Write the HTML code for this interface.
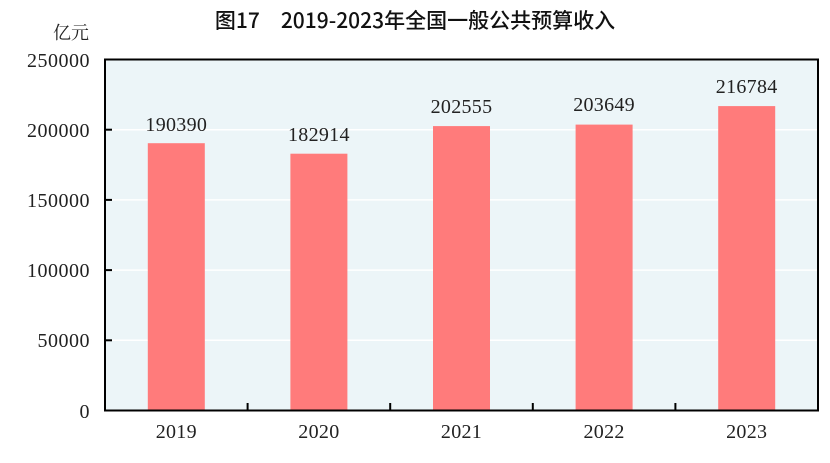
<!DOCTYPE html><html><head><meta charset="utf-8"><style>body{margin:0;background:#fff}svg{display:block}</style></head><body>
<svg width="830" height="463" xmlns="http://www.w3.org/2000/svg">
<text x="415" y="28" text-anchor="middle" font-family="'Noto Sans CJK SC',sans-serif" font-size="21" font-weight="500" fill="#111">图17　2019-2023年全国一般公共预算收入</text>
<text x="89" y="39" text-anchor="end" font-family="'Noto Serif CJK SC','Liberation Serif',serif" font-size="18" fill="#222">亿元</text>
<rect x="105" y="59.5" width="713" height="351" fill="#ecf5f8"/>
<g stroke="#fff" stroke-width="1.5">
<line x1="105" x2="818" y1="129.7" y2="129.7"/><line x1="105" x2="818" y1="199.9" y2="199.9"/><line x1="105" x2="818" y1="270.1" y2="270.1"/><line x1="105" x2="818" y1="340.3" y2="340.3"/>
</g>
<g fill="#ff7b7b">
<rect x="147.8" y="143.2" width="57" height="267.3"/>
<rect x="290.4" y="153.7" width="57" height="256.8"/>
<rect x="433" y="126.1" width="57" height="284.4"/>
<rect x="575.6" y="124.6" width="57" height="285.9"/>
<rect x="718.2" y="106.1" width="57" height="304.4"/>
</g>
<rect x="105" y="59.5" width="713" height="351" fill="none" stroke="#000" stroke-width="2"/>
<g stroke="#000" stroke-width="2">
<line x1="105" x2="112" y1="129.7" y2="129.7"/><line x1="105" x2="112" y1="199.9" y2="199.9"/><line x1="105" x2="112" y1="270.1" y2="270.1"/><line x1="105" x2="112" y1="340.3" y2="340.3"/>
<line x1="247.6" x2="247.6" y1="410.5" y2="403"/><line x1="390.2" x2="390.2" y1="410.5" y2="403"/><line x1="532.8" x2="532.8" y1="410.5" y2="403"/><line x1="675.4" x2="675.4" y1="410.5" y2="403"/>
</g>
<g font-family="'Liberation Serif',serif" font-size="20" fill="#222" text-anchor="end" letter-spacing="0.5">
<text x="90" y="67">250000</text><text x="90" y="137">200000</text><text x="90" y="207">150000</text><text x="90" y="277">100000</text><text x="90" y="347">50000</text><text x="90" y="418">0</text>
</g>
<g font-family="'Liberation Serif',serif" font-size="20" fill="#222" text-anchor="middle" letter-spacing="0.3">
<text x="176.3" y="131">190390</text><text x="318.9" y="141">182914</text><text x="461.5" y="113">202555</text><text x="604.1" y="111">203649</text><text x="746.7" y="93">216784</text>
<text x="176.3" y="438">2019</text><text x="318.9" y="438">2020</text><text x="461.5" y="438">2021</text><text x="604.1" y="438">2022</text><text x="746.7" y="438">2023</text>
</g>
</svg>
</body></html>
